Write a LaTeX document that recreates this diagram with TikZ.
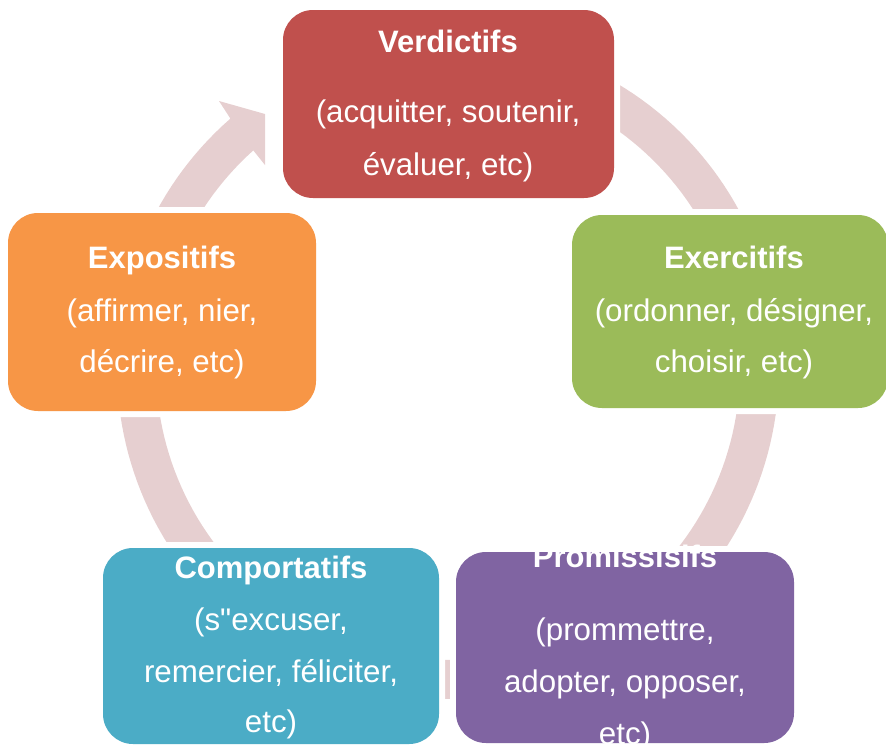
\documentclass[tikz,border=0pt]{standalone}
\usepackage{fontspec}
\setmainfont{Liberation Sans}[Ligatures=TeXOff]
\definecolor{ringc}{HTML}{E6CFD0}
\definecolor{verdc}{HTML}{C0504D}
\definecolor{exerc}{HTML}{9BBB59}
\definecolor{expoc}{HTML}{F79646}
\definecolor{compc}{HTML}{4BACC6}
\definecolor{promc}{HTML}{8064A2}
\begin{document}
\begin{tikzpicture}[x=1pt,y=-1pt,
  box/.style={rectangle, rounded corners=30pt, inner sep=0pt,
    preaction={draw=white, line width=12pt}},
  ttl/.style={anchor=base, text=white, inner sep=0pt,
    font=\fontsize{31}{37}\selectfont\bfseries},
  txt/.style={anchor=base, text=white, inner sep=0pt,
    font=\fontsize{31.3}{37}\selectfont}]
\useasboundingbox (0,0) rectangle (886,745);
% ring with arrowhead
\fill[ringc] plot[domain=-80:228.9, samples=180] ({448+331*cos(\x)},{368+331*sin(\x)})
  -- (219,101) -- (265,114) -- (265,165) -- (253,150)
  -- plot[domain=228.2:-80, samples=180] ({448+292*cos(\x)},{368+292*sin(\x)}) -- cycle;
% boxes
\node[box, fill=verdc, minimum width=331pt, minimum height=188pt] (verd) at (448.5,104) {};
\node[box, fill=exerc, minimum width=316pt, minimum height=193pt] (exer) at (730,311.5) {};
\node[box, fill=promc, minimum width=338pt, minimum height=191pt] (prom) at (625,647.5) {};
\node[box, fill=compc, minimum width=336pt, minimum height=196pt] (comp) at (271,646) {};
\node[box, fill=expoc, minimum width=308pt, minimum height=198pt] (expo) at (162,312) {};
% texts
\node[ttl] (verd-t) at (448,52) {Verdictifs};
\node[txt] (verd-a) at (448,122) {(acquitter, soutenir,};
\node[txt] (verd-b) at (448,175) {évaluer, etc)};
\node[ttl] (exer-t) at (734,268) {Exercitifs};
\node[txt] (exer-a) at (734,321) {(ordonner, désigner,};
\node[txt] (exer-b) at (734,372) {choisir, etc)};
\node[ttl] (prom-t) at (625,567) {Promissisifs};
\node[txt] (prom-a) at (625,640) {(prommettre,};
\node[txt] (prom-b) at (625,692) {adopter, opposer,};
\node[txt] (prom-c) at (625,744) {etc)};
\node[ttl] (comp-t) at (271,578) {Comportatifs};
\node[txt] (comp-a) at (271,630) {(s"excuser,};
\node[txt] (comp-b) at (271,682) {remercier, féliciter,};
\node[txt] (comp-c) at (271,732) {etc)};
\node[ttl] (expo-t) at (162,268) {Expositifs};
\node[txt] (expo-a) at (162,321) {(affirmer, nier,};
\node[txt] (expo-b) at (162,372) {décrire, etc)};
\end{tikzpicture}
\end{document}
